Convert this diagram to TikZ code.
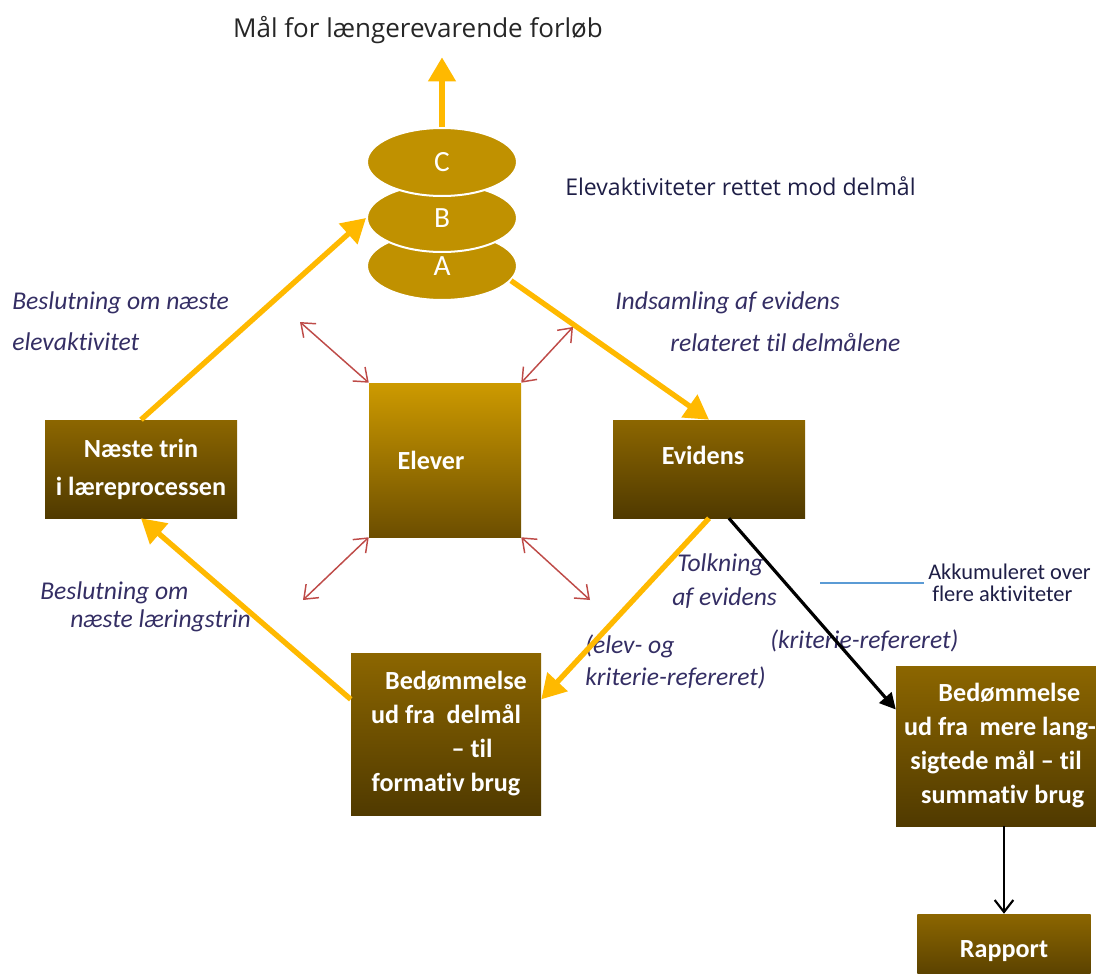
\documentclass[tikz,border=0pt]{standalone}
\usepackage{fontspec}
\setmainfont{Carlito}[Ligatures=NoCommon]
\newfontfamily\segoe{Open Sans}
\usetikzlibrary{arrows.meta,shapes.geometric}
\definecolor{gold}{RGB}{255,185,0}
\definecolor{disc}{RGB}{192,145,0}
\definecolor{boxtop}{RGB}{140,102,0}
\definecolor{boxbot}{RGB}{80,58,0}
\definecolor{elevtop}{RGB}{205,154,0}
\definecolor{elevbot}{RGB}{108,78,0}
\definecolor{navy}{RGB}{52,46,100}
\definecolor{darknavy}{RGB}{30,30,70}
\definecolor{redarr}{RGB}{190,75,72}
\definecolor{lineblue}{RGB}{91,155,213}
\tikzset{boks/.style={top color=boxtop,bottom color=boxbot,draw=none,text=white,align=center,inner sep=0pt,font=\fontsize{19.6}{25.5}\selectfont\bfseries}}
\tikzset{lbl/.style={anchor=west,inner sep=0pt,text=navy,font=\fontsize{19.2}{20}\selectfont\itshape}}

\begin{document}
\begin{tikzpicture}[x=0.75pt,y=-0.75pt]
		\tikzstyle{disk}=[ellipse,draw=white,line width=1.5pt,fill=disc,minimum width=112.5pt,minimum height=51pt,inner sep=0pt,text=white,font=\fontsize{22}{22}\selectfont]
		\tikzstyle{gul}=[draw=gold,line width=4pt,-{Triangle[length=18pt,width=20pt]}]
		\tikzstyle{sort}=[draw=black,-{Triangle[length=12pt,width=12pt]}]
		\tikzstyle{rood}=[draw=redarr,line width=1.1pt,{Straight Barb[length=9pt,width=14pt]}-{Straight Barb[length=9pt,width=14pt]}]

		\useasboundingbox (0,0) rectangle (1107,974);

		% titler
		\node[inner sep=0pt,text=black!85,font=\segoe\fontsize{19.5}{19.5}\selectfont](tt) at (418,30){Mål for længerevarende forløb};
		\node[anchor=west,inner sep=0pt,text=darknavy,font=\segoe\fontsize{17.3}{17.3}\selectfont](ea) at (565,186){Elevaktiviteter rettet mod delmål};

		% delmaal
		\node[disk](a) at (442,266){A};
		\node[disk](b) at (442,218){B};
		\node[disk](c) at (442,162){C};

		% kasser
		\node[boks,minimum width=144pt,minimum height=73.5pt](nt) at (141,469){Næste trin\\[3pt]i læreprocessen};
		\node[boks,top color=elevtop,bottom color=elevbot,minimum width=114pt,minimum height=115.5pt](el) at (445,460){Elever\hspace{21pt}};
		\node[boks,minimum width=144pt,minimum height=73.5pt](ev) at (709,469){\raisebox{20pt}{Evidens}\hspace{9pt}};
		\node[boks,minimum width=142.5pt,minimum height=121.5pt](bl) at (446,734){\hspace*{15pt}Bedømmelse\\ud fra\ \ delmål\\\hspace*{39pt}– til\\formativ brug};
		\node[boks,minimum width=142.5pt,minimum height=120pt](br) at (996,746){\hspace*{20pt}Bedømmelse\\\hspace*{6pt}ud fra\ \ mere lang-\\sigtede mål – til\\\hspace*{10pt}summativ brug};
		\node[boks,minimum width=130pt,minimum height=55.5pt](rp) at (1004,951){Rapport};

		% tekst ved pilene
		\node[lbl](l1) at (12,303){Beslutning om næste};
		\node[lbl](l2) at (12,342){elevaktivitet};
		\node[lbl](l3) at (615,303){Indsamling af evidens};
		\node[lbl](l4) at (670,343){relateret til delmålene};
		\node[lbl](l5) at (40,593){Beslutning om};
		\node[lbl](l6) at (70,621){næste læringstrin};
		\node[lbl](l7) at (677,565){Tolkning};
		\node[lbl](l8) at (672,598){af evidens};
		\node[lbl](l9) at (585,646){(elev- og};
		\node[lbl](l10) at (585,678){kriterie-refereret)};
		\node[lbl](l11) at (770,641){(kriterie-refereret)};
		\node[lbl,font=\fontsize{16.8}{16.8}\selectfont,text=darknavy](ak1) at (928,572){Akkumuleret over};
		\node[lbl,font=\fontsize{16.8}{16.8}\selectfont,text=darknavy](ak2) at (932,594){flere aktiviteter};

		\coordinate (bx) at (820,583);
		\draw[lineblue,line width=0.9pt] (bx) -- ([xshift=-3pt]bx -| ak1.west);

		% gule pile
		\draw[gul,shorten >=10pt] (c.north) -- (tt.south -| c.north);
		\draw[gul] (nt.north) -- (b.west);
		\draw[gul] (a.-12) -- (ev.north);
		\draw[gul] (ev.south) -- (bl.20);
		\draw[gul] (bl.160) -- (nt.south);

		% sorte pile
		\draw[sort,line width=2.4pt] (ev.-68) -- (br.160);
		\draw[draw=black,line width=1.6pt,-{Straight Barb[length=9pt,width=14pt]}] (rp.north |- br.south) -- (rp.north);

		% elever <-> omgivelser
		\coordinate (p1) at (300,322);
		\coordinate (p2) at (573,327);
		\coordinate (p3) at (303,600);
		\coordinate (p4) at (590,600);
		\foreach \p/\k in {p1/north west,p2/north east,p3/south west,p4/south east}
			\draw[rood] (\p) -- (el.\k);
	\end{tikzpicture}
\end{document}
